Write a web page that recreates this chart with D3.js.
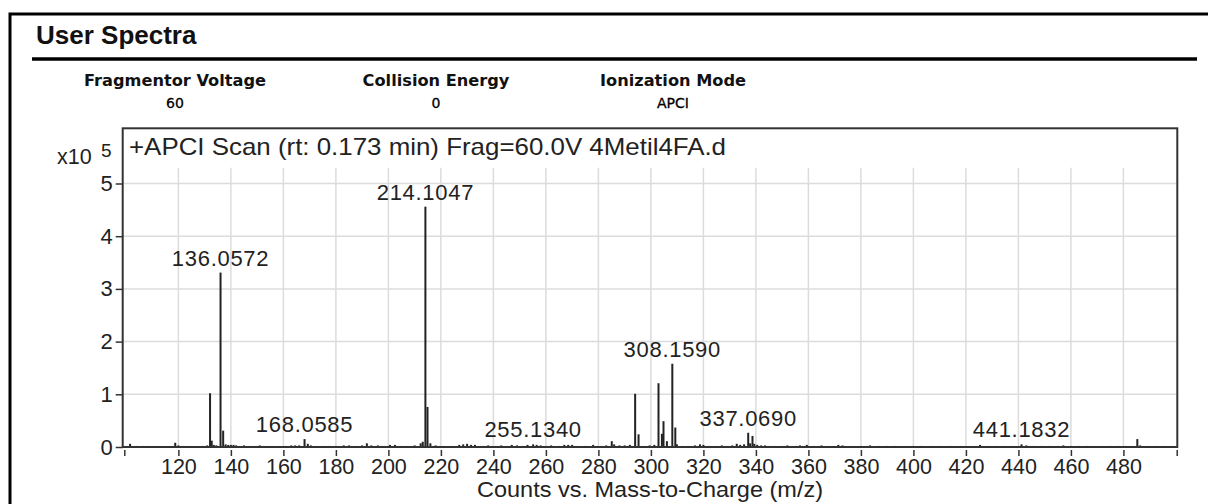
<!DOCTYPE html>
<html>
<head>
<meta charset="utf-8">
<script src="https://cdn.jsdelivr.net/npm/d3@7"></script>
<style>
  html, body { margin: 0; padding: 0; background: #fff; }
  svg { display: block; }
  .sans { font-family: "Liberation Sans", Arial, sans-serif; }
  .tahoma { font-family: "DejaVu Sans", Verdana, sans-serif; }
</style>
</head>
<body>
<div id="chart"></div>
<script>
// --- data (intensities in units of 1e5 counts) ---
const paramLabels = ["Fragmentor Voltage", "Collision Energy", "Ionization Mode"];
const paramValues = ["60", "0", "APCI"];

const xTicks = [120, 140, 160, 180, 200, 220, 240, 260, 280, 300, 320, 340, 360, 380, 400, 420, 440, 460, 480];
const yTicks = [0, 1, 2, 3, 4, 5];

const peakMz = [
  101.6, 104, 106.5, 108, 110.5, 112, 118.8, 120, 122, 124.5, 129.5, 131,
  132.07, 132.7, 133.5, 134.5, 136.06, 137.06, 138, 139, 140, 141, 142, 143.5,
  145, 147, 149, 151, 153.5, 158.5, 161, 163, 164.5, 166, 168.06, 169.3, 170.5,
  172, 175, 177.5, 180, 183, 185, 187.5, 190, 191.8, 193.5, 196, 198, 200.6,
  202.5, 205, 207, 210, 212.3, 213.1, 214.10, 214.9, 216, 218, 221, 224, 227,
  228.5, 230, 231.5, 233, 236, 238, 241, 243, 245, 247, 249, 251, 253, 255.13,
  256.5, 258, 260, 262, 265, 267, 268.5, 270, 272, 275, 278, 281, 283, 285.1,
  286, 288, 290, 292, 294.0, 295.3, 297, 299.5, 301.3, 302.9, 304.2, 304.8,
  306.1, 308.16, 309.3, 309.9, 312, 314, 316.8, 318.7, 320, 322, 325, 327, 329,
  331, 332.7, 334, 335.5, 337.07, 337.8, 338.7, 339.4, 340.5, 342, 343.5, 345,
  347, 350, 352, 355, 356.8, 359.4, 362, 365, 368, 371.4, 373, 376, 380, 383.5,
  387, 390, 393, 397, 400, 403, 407, 410, 414, 418, 421, 425.4, 428, 432, 435,
  438, 441.18, 443, 446, 449, 452, 455, 457.1, 460, 463, 466, 469, 472, 475,
  478, 481, 483, 485.3, 486.4, 489, 492, 495, 498
];
const peakHeight = [
  0.06, 0.02, 0.02, 0.02, 0.02, 0.02, 0.08, 0.03, 0.02, 0.02, 0.02, 0.03,
  1.02, 0.12, 0.04, 0.03, 3.31, 0.31, 0.05, 0.04, 0.04, 0.04, 0.03, 0.02,
  0.03, 0.02, 0.02, 0.03, 0.02, 0.02, 0.02, 0.03, 0.03, 0.03, 0.15, 0.06, 0.03,
  0.02, 0.02, 0.02, 0.02, 0.03, 0.03, 0.02, 0.03, 0.07, 0.03, 0.03, 0.02, 0.04,
  0.04, 0.02, 0.02, 0.03, 0.07, 0.10, 4.56, 0.76, 0.07, 0.03, 0.02, 0.02, 0.04,
  0.05, 0.06, 0.04, 0.04, 0.02, 0.03, 0.02, 0.03, 0.02, 0.04, 0.03, 0.02, 0.04, 0.05,
  0.04, 0.03, 0.02, 0.03, 0.02, 0.04, 0.04, 0.04, 0.02, 0.02, 0.04, 0.02, 0.03, 0.11,
  0.05, 0.03, 0.03, 0.04, 1.01, 0.24, 0.02, 0.03, 0.04, 1.21, 0.25, 0.49,
  0.11, 1.58, 0.37, 0.05, 0.02, 0.02, 0.03, 0.05, 0.04, 0.02, 0.02, 0.03, 0.02,
  0.03, 0.06, 0.04, 0.05, 0.27, 0.07, 0.21, 0.06, 0.04, 0.03, 0.03, 0.02,
  0.02, 0.02, 0.03, 0.02, 0.03, 0.04, 0.02, 0.03, 0.02, 0.04, 0.03, 0.02, 0.02, 0.03,
  0.02, 0.02, 0.02, 0.02, 0.02, 0.02, 0.02, 0.02, 0.02, 0.02, 0.02, 0.04, 0.02, 0.02, 0.02,
  0.02, 0.05, 0.03, 0.02, 0.02, 0.02, 0.02, 0.03, 0.02, 0.02, 0.02, 0.02, 0.02, 0.02,
  0.02, 0.02, 0.02, 0.15, 0.03, 0.02, 0.02, 0.02, 0.02
];

const labelMz = [136.0572, 168.0585, 214.1047, 255.1340, 308.1590, 337.0690, 441.1832];

const peaks = peakMz.map((mz, i) => ({ mz, h: peakHeight[i] }));

// --- layout ---
const width = 1208, height = 504;
const ink = "#222";

const svg = d3.select("#chart")
  .append("svg")
  .attr("width", width)
  .attr("height", height);

// page frame (top + left only, the rest is cut off)
svg.append("path")
  .attr("d", `M10,504 V14 H1208`)
  .attr("fill", "none")
  .attr("stroke", "#000")
  .attr("stroke-width", 3);

svg.append("text")
  .attr("class", "sans")
  .attr("x", 36)
  .attr("y", 44)
  .attr("font-size", 26)
  .attr("font-weight", "bold")
  .attr("fill", "#111")
  .text("User Spectra");

svg.append("line")
  .attr("x1", 32).attr("x2", 1197)
  .attr("y1", 59).attr("y2", 59)
  .attr("stroke", "#000")
  .attr("stroke-width", 3.5);

// acquisition parameters
const paramX = [175, 436, 673];
paramLabels.forEach((lab, i) => {
  svg.append("text")
    .attr("class", "tahoma")
    .attr("x", paramX[i]).attr("y", 86)
    .attr("text-anchor", "middle")
    .attr("font-size", 16.2)
    .attr("font-weight", "bold")
    .attr("fill", "#111")
    .text(lab);
  svg.append("text")
    .attr("class", "tahoma")
    .attr("x", paramX[i]).attr("y", 108)
    .attr("text-anchor", "middle")
    .attr("font-size", 14)
    .attr("fill", "#000")
    .attr("stroke", "#000")
    .attr("stroke-width", 0.3)
    .text(paramValues[i]);
});

// --- plot ---
const frame = { left: 122.7, right: 1177.3, top: 128.3, bottom: 447 };

const x = d3.scaleLinear()
  .domain([99.4, 500.3])
  .range([124.3, 1176.7]);

const y = d3.scaleLinear()
  .domain([0, 5.3])
  .range([447, 447 - 5.3 * 52.7]);

// gridlines
svg.append("g")
  .selectAll("line")
  .data(xTicks)
  .join("line")
  .attr("x1", d => x(d)).attr("x2", d => x(d))
  .attr("y1", y(5.3)).attr("y2", frame.bottom)
  .attr("stroke", "#dcdcdc")
  .attr("stroke-width", 1.5);

svg.append("g")
  .selectAll("line")
  .data(yTicks.filter(d => d > 0))
  .join("line")
  .attr("x1", frame.left).attr("x2", frame.right)
  .attr("y1", d => y(d)).attr("y2", d => y(d))
  .attr("stroke", "#dcdcdc")
  .attr("stroke-width", 1.5);

// spectrum sticks
svg.append("g")
  .selectAll("line")
  .data(peaks)
  .join("line")
  .attr("x1", d => x(d.mz)).attr("x2", d => x(d.mz))
  .attr("y1", y(0)).attr("y2", d => y(d.h))
  .attr("stroke", ink)
  .attr("stroke-width", 2);

// plot frame
svg.append("rect")
  .attr("x", frame.left).attr("y", frame.top)
  .attr("width", frame.right - frame.left)
  .attr("height", frame.bottom - frame.top)
  .attr("fill", "none")
  .attr("stroke", "#333")
  .attr("stroke-width", 2);

// peak labels
svg.append("g")
  .selectAll("text")
  .data(labelMz)
  .join("text")
  .attr("class", "sans")
  .attr("x", d => x(d))
  .attr("y", d => {
    const p = peaks.reduce((a, b) => Math.abs(b.mz - d) < Math.abs(a.mz - d) ? b : a);
    return y(p.h) - 7;
  })
  .attr("text-anchor", "middle")
  .attr("font-size", 22)
  .attr("letter-spacing", 0.7)
  .attr("fill", ink)
  .text(d => d.toFixed(4));

// axes
const yAxis = d3.axisLeft(y)
  .tickValues(yTicks)
  .tickFormat(d3.format("d"))
  .tickSize(7)
  .tickPadding(3);

const yg = svg.append("g")
  .attr("transform", `translate(${frame.left},0)`)
  .call(yAxis);
yg.select(".domain").remove();

const xEnds = x.domain();
const xAxis = d3.axisBottom(x)
  .tickValues([xEnds[0], ...xTicks, xEnds[1]])
  .tickFormat(d => xTicks.includes(d) ? d : "")
  .tickSize(6)
  .tickPadding(2.5);

const xg = svg.append("g")
  .attr("transform", `translate(0,450)`)
  .call(xAxis);
xg.select(".domain").remove();

[yg, xg].forEach(g => {
  g.selectAll(".tick line").attr("stroke", "#333").attr("stroke-width", 1.5);
  g.selectAll(".tick text")
    .attr("class", "sans")
    .attr("font-size", 22)
    .attr("fill", ink);
});
xg.selectAll(".tick text").attr("font-size", 21.5);

// multiplier
svg.append("text")
  .attr("class", "sans")
  .attr("x", 57).attr("y", 164)
  .attr("font-size", 21.5)
  .attr("fill", ink)
  .text("x10");
svg.append("text")
  .attr("class", "sans")
  .attr("x", 101).attr("y", 157)
  .attr("font-size", 19)
  .attr("fill", ink)
  .text("5");

// plot title
svg.append("text")
  .attr("class", "sans")
  .attr("x", 129).attr("y", 155)
  .attr("font-size", 24)
  .attr("textLength", 597)
  .attr("lengthAdjust", "spacingAndGlyphs")
  .attr("fill", ink)
  .text("+APCI Scan (rt: 0.173 min) Frag=60.0V 4Metil4FA.d");

// axis title
svg.append("text")
  .attr("class", "sans")
  .attr("x", 650).attr("y", 497)
  .attr("text-anchor", "middle")
  .attr("font-size", 22.5)
  .attr("textLength", 346)
  .attr("lengthAdjust", "spacingAndGlyphs")
  .attr("fill", ink)
  .text("Counts vs. Mass-to-Charge (m/z)");
</script>
</body>
</html>
